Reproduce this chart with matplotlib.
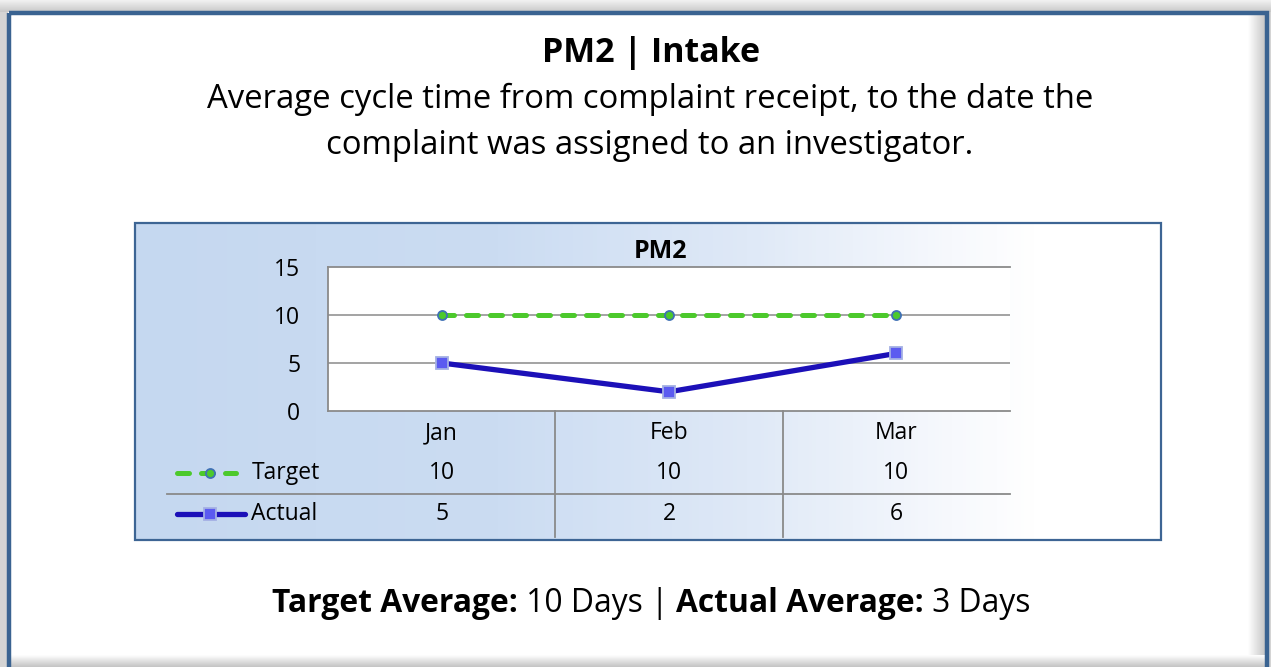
import numpy as np
import matplotlib
matplotlib.use("Agg")
import matplotlib.pyplot as plt
from matplotlib.colors import LinearSegmentedColormap
from matplotlib.lines import Line2D
from matplotlib.patches import Rectangle
from matplotlib.offsetbox import TextArea, HPacker, AnnotationBbox
import matplotlib.transforms as mtrans

# ---------------- data ----------------
months = ["Jan", "Feb", "Mar"]
target = [10, 10, 10]
actual = [5, 2, 6]
yticks = [0, 5, 10, 15]
series_names = ["Target", "Actual"]
main_title = "PM2 | Intake"
subtitle = "Average cycle time from complaint receipt, to the date the\ncomplaint was assigned to an investigator."
chart_title = "PM2"
footer_parts = [("Target Average:", True), (" 10 Days | ", False),
                ("Actual Average:", True), (" 3 Days", False)]

FONT = "Open Sans"
plt.rcParams["font.family"] = [FONT, "DejaVu Sans"]
FS_TXT = 16.5

W, H = 1271, 667
fig = plt.figure(figsize=(W / 100, H / 100), dpi=100)
fig.patch.set_facecolor("#d4d4d4")

bg = fig.add_axes([0, 0, 1, 1])
bg.set_xlim(0, W)
bg.set_ylim(H, 0)
bg.axis("off")

grad = np.linspace(0, 1, 50).reshape(-1, 1)
shade = LinearSegmentedColormap.from_list("sh", ["#f2f2f2", "#c8c8c8"])
bg.imshow(grad, extent=[0, W, 12, 0], cmap=shade, aspect="auto", zorder=0)

bg.add_patch(Rectangle((8, 12), 1260, 700, facecolor="white", edgecolor="none", zorder=1))
shade2 = LinearSegmentedColormap.from_list("sh2", ["#ffffff", "#c4c4c4"])
g2 = np.linspace(0, 1, 60).reshape(1, -1)
bg.imshow(g2, extent=[1248, 1266, H, 14], cmap=shade2, aspect="auto", zorder=2)
g3 = np.linspace(0, 1, 60).reshape(-1, 1)
bg.imshow(g3, extent=[10, 1266, H, 655], cmap=shade2, aspect="auto", zorder=2)
bg.add_patch(Rectangle((9, 13), 1258, 700, facecolor="none", edgecolor="#3a6391",
                       lw=3.2, zorder=3))

cbox = LinearSegmentedColormap.from_list(
    "cb", [(0, "#c5d8f0"), (0.35, "#cbdcf2"), (0.6, "#dfe9f7"),
           (0.8, "#f7f9fd"), (0.88, "#ffffff"), (1, "#ffffff")])
g4 = np.linspace(0, 1, 300).reshape(1, -1)
bg.imshow(g4, extent=[135, 1161, 540, 223], cmap=cbox, aspect="auto", zorder=4)
bg.add_patch(Rectangle((135, 223), 1026, 317, facecolor="none", edgecolor="#3d6594",
                       lw=1.6, zorder=5))

bg.text(651, 53, main_title, ha="center", va="center", fontsize=24.5, fontweight="bold",
        color="black", zorder=6)
bg.text(650, 122, subtitle, ha="center", va="center", fontsize=23.7, color="black",
        linespacing=1.52, zorder=6)

areas = [TextArea(t, textprops=dict(fontsize=22.9, fontweight="bold" if b else "normal",
                                    color="black", family=[FONT, "DejaVu Sans"]))
         for t, b in footer_parts]
pack = HPacker(children=areas, align="baseline", pad=0, sep=0)
ab = AnnotationBbox(pack, (651, 603), xycoords="data", box_alignment=(0.5, 0.5),
                    frameon=False, pad=0, zorder=6)
bg.add_artist(ab)

# ---------------- chart axes ----------------
L, R, T, B = 328, 1010, 267, 411
ax = fig.add_axes([L / W, 1 - B / H, (R - L) / W, (B - T) / H])
ax.set_facecolor("white")
ax.set_zorder(10)
x = np.arange(len(months))
ax.set_xlim(-0.5, len(months) - 0.5)
ax.set_ylim(yticks[0], yticks[-1])
ax.set_yticks(yticks)
ax.set_yticklabels([str(v) for v in yticks], fontsize=FS_TXT)
ax.tick_params(axis="y", length=0, pad=20)
ax.set_xticks([])
ax.spines["right"].set_visible(False)
for s in ["left", "top", "bottom"]:
    ax.spines[s].set_color("#8a8a8a")
    ax.spines[s].set_linewidth(1.3)
for v in yticks[1:-1]:
    ax.axhline(v, color="#8a8a8a", lw=1.1, zorder=1)

tgt_style = dict(color="#4cc92c", lw=3.6, ls=(0, (2.4, 2.4)), marker="o", ms=6.5,
                 mfc="#4cc92c", mec="#3f70b5", mew=1.3, dash_capstyle="round")
act_style = dict(color="#1c10b8", lw=3.8, marker="s", ms=8, mfc="#5b5bf0",
                 mec="#a4b0e4", mew=1.3, solid_capstyle="round")
ax.plot(x, target, zorder=3, clip_on=False, **tgt_style)
ax.plot(x, actual, zorder=3, clip_on=False, **act_style)

ax.text(0.487, 1.11, chart_title, transform=ax.transAxes, ha="center", va="center",
        fontsize=18, fontweight="bold")

# ---------------- data table ----------------
bt = mtrans.blended_transform_factory(ax.transData, ax.transAxes)
h = B - T
def yax(py):
    return (B - py) / h

for i, m in enumerate(months):
    ax.text(x[i], yax(433), m, transform=bt, ha="center", va="center", fontsize=FS_TXT,
            clip_on=False)
    ax.text(x[i], yax(473), str(target[i]), transform=bt, ha="center", va="center",
            fontsize=FS_TXT, clip_on=False)
    ax.text(x[i], yax(514), str(actual[i]), transform=bt, ha="center", va="center",
            fontsize=FS_TXT, clip_on=False)
for k in range(len(months) - 1):
    ax.add_line(Line2D([x[k] + 0.5, x[k] + 0.5], [0, yax(537)], transform=bt,
                       color="#8a8a8a", lw=1.3, clip_on=False))
wx = lambda px: (px - L) / (R - L)
ax.add_line(Line2D([wx(167), 1.0], [yax(494), yax(494)], transform=ax.transAxes,
                   color="#8a8a8a", lw=1.3, clip_on=False))

ax.add_line(Line2D([wx(177), wx(236)], [yax(473)] * 2, transform=ax.transAxes,
                   clip_on=False, markevery=[], **tgt_style))
ax.add_line(Line2D([wx(210)], [yax(473)], transform=ax.transAxes, clip_on=False,
                   ls="none", marker="o", ms=6.5, mfc="#4cc92c", mec="#3f70b5", mew=1.3))
ax.add_line(Line2D([wx(177), wx(245)], [yax(514)] * 2, transform=ax.transAxes,
                   clip_on=False, markevery=[], **act_style))
ax.add_line(Line2D([wx(210)], [yax(514)], transform=ax.transAxes, clip_on=False,
                   ls="none", marker="s", ms=8, mfc="#5b5bf0", mec="#a4b0e4", mew=1.3))
ax.text(wx(252), yax(473), series_names[0], transform=ax.transAxes, ha="left",
        va="center", fontsize=FS_TXT, clip_on=False)
ax.text(wx(251), yax(514), series_names[1], transform=ax.transAxes, ha="left",
        va="center", fontsize=FS_TXT, clip_on=False)

fig.savefig("out.png", dpi=100, facecolor=fig.get_facecolor())
